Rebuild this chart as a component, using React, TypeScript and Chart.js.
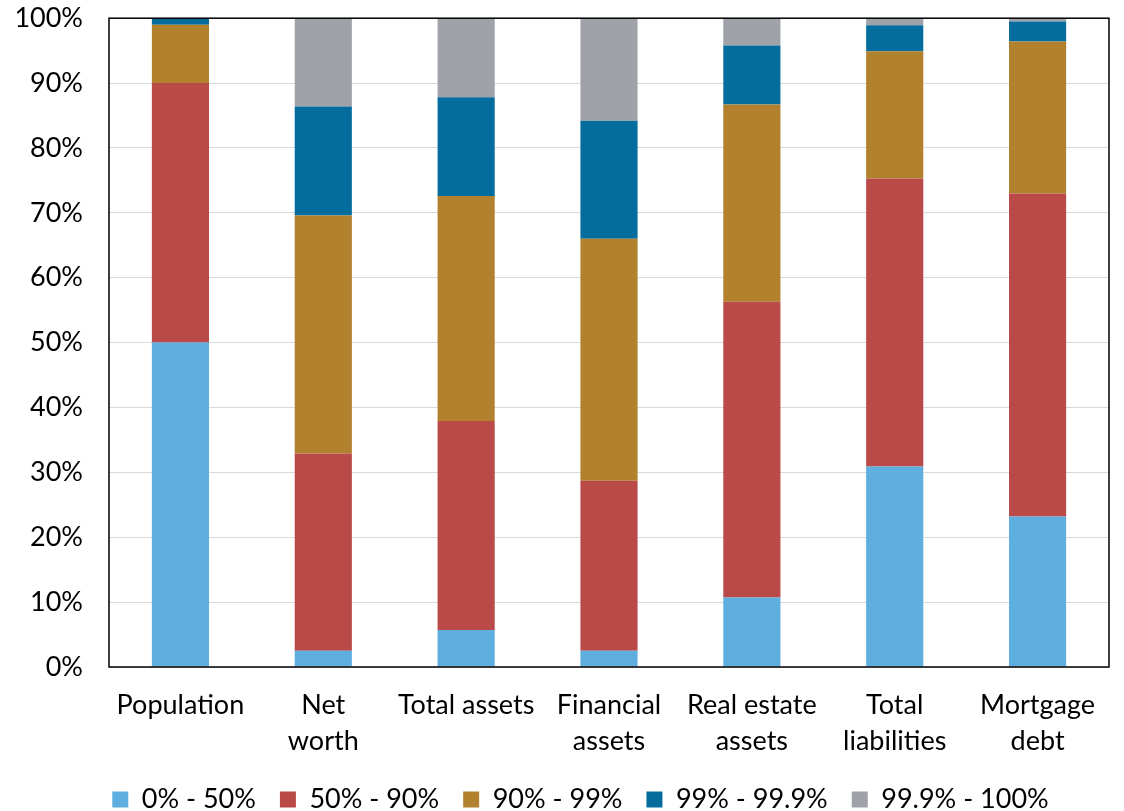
import React, { useEffect, useRef } from "react";
import { Chart, registerables } from "chart.js";

Chart.register(...registerables);

const categories: (string | string[])[] = [
  "Population",
  ["Net", "worth"],
  "Total assets",
  ["Financial", "assets"],
  ["Real estate", "assets"],
  ["Total", "liabilities"],
  ["Mortgage", "debt"],
];

const seriesNames = ["0% - 50%", "50% - 90%", "90% - 99%", "99% - 99.9%", "99.9% - 100%"];

const bottom50 = [50, 2.5, 5.7, 2.5, 10.7, 30.9, 23.2];
const next40 = [40, 30.4, 32.2, 26.2, 45.6, 44.4, 49.8];
const next9 = [9, 36.7, 34.7, 37.3, 30.4, 19.6, 23.4];
const next09 = [0.9, 16.8, 15.2, 18.2, 9.1, 4.0, 3.1];
const top01 = [0.1, 13.6, 12.2, 15.8, 4.2, 1.1, 0.5];

const yTicks = [0, 10, 20, 30, 40, 50, 60, 70, 80, 90, 100];

const colors = ["#5FAEE0", "#B94A48", "#B1812D", "#056D9E", "#A0A2AA"];

const FONT = "Lato, 'Open Sans', sans-serif";

export default function App() {
  const ref = useRef<HTMLCanvasElement | null>(null);

  useEffect(() => {
    document.body.style.margin = "0";
    const canvas = ref.current;
    if (!canvas) return;
    const series = [bottom50, next40, next9, next09, top01];

    const framePlugin = {
      id: "frame",
      afterLayout(chart: any) {
        if (chart.legend) chart.legend.left = 52;
      },
      afterDatasetsDraw(chart: any) {
        const { ctx, chartArea } = chart;
        ctx.save();
        ctx.strokeStyle = "#000000";
        ctx.lineWidth = 1.5;
        ctx.strokeRect(chartArea.left, chartArea.top, chartArea.right - chartArea.left, chartArea.bottom - chartArea.top);
        ctx.restore();
      },
    };

    const chart = new Chart(canvas, {
      type: "bar",
      data: {
        labels: categories,
        datasets: series.map((d, i) => ({
          label: seriesNames[i],
          data: d,
          backgroundColor: colors[i],
          borderWidth: 0,
          barPercentage: 0.4,
          categoryPercentage: 1,
        })),
      },
      options: {
        animation: false,
        responsive: false,
        layout: { padding: { top: 18, right: 15, left: 0, bottom: 0 } },
        plugins: {
          tooltip: { enabled: false },
          legend: {
            position: "bottom",
            labels: {
              boxWidth: 16,
              boxHeight: 16,
              padding: 24,
              color: "#000",
              font: { family: FONT, size: 27 },
            },
          },
        },
        scales: {
          x: {
            stacked: true,
            grid: { display: false, drawTicks: false },
            border: { display: false },
            ticks: {
              color: "#000",
              padding: 20,
              maxRotation: 0,
              autoSkip: false,
              font: { family: FONT, size: 27, lineHeight: 1.333 },
            },
            afterFit(scale: any) {
              scale.height = 95;
            },
          },
          y: {
            stacked: true,
            min: 0,
            max: 100,
            grid: { color: "#D9D9D9", lineWidth: 1, drawTicks: false },
            border: { display: false },
            afterBuildTicks(scale: any) {
              scale.ticks = yTicks.map((v) => ({ value: v }));
            },
            ticks: {
              color: "#000",
              padding: 26,
              font: { family: FONT, size: 27 },
              callback: (v: any) => v + "%",
            },
            afterFit(scale: any) {
              scale.width = 109;
            },
          },
        },
      },
      plugins: [framePlugin],
    });
    return () => chart.destroy();
  }, []);

  return (
    <div style={{ position: "absolute", left: 0, top: 0, width: 1124, height: 811, overflow: "hidden" }}>
      <canvas ref={ref} width={1124} height={847} style={{ display: "block", position: "absolute", left: 0, top: -24 }} />
    </div>
  );
}
